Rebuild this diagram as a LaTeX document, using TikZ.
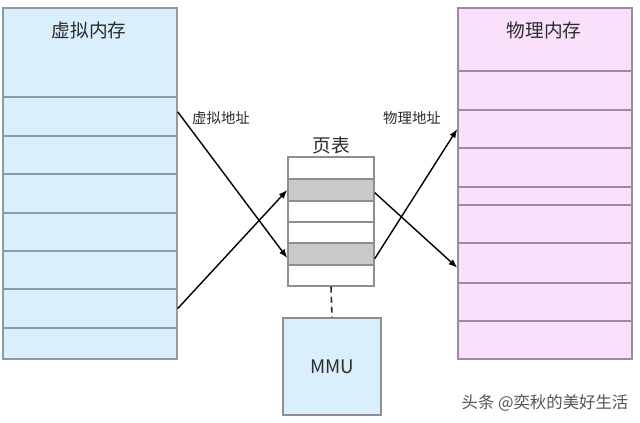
\documentclass[tikz,border=0pt]{standalone}
\usepackage{fontspec}
\setmainfont{Noto Sans CJK SC}
\usetikzlibrary{arrows.meta}

\definecolor{vmfill}{HTML}{D9EFFC}
\definecolor{vmline}{HTML}{8E9BA3}
\definecolor{pmfill}{HTML}{F9E1FC}
\definecolor{pmline}{HTML}{9A8C9E}
\definecolor{ptgray}{HTML}{C9C9C9}
\definecolor{ptline}{HTML}{8F8F8F}
\definecolor{txt}{HTML}{2B2B2B}

\begin{document}
\begin{tikzpicture}[x=0.75pt, y=-0.75pt,
    cell/.style={draw=#1, line width=1.1pt, inner sep=0pt},
    title/.style={text=txt, font=\fontsize{14pt}{16pt}\selectfont},
    lbl/.style={text=txt, font=\fontsize{10.8pt}{12pt}\selectfont},
    link/.style={-{Latex[length=6.5pt, width=5pt]}, line width=1.05pt, black}]
    \useasboundingbox (0,0) rectangle (640,422);
    \fill[white] (0,0) rectangle (640,422);

    % virtual memory
    \foreach \t/\b [count=\i] in {8/97, 97/136, 136/174, 174/213, 213/251, 251/289, 289/328, 328/359}
        \node[cell=vmline, fill=vmfill, minimum width=130.5pt, minimum height={(\b-\t)*0.75pt}]
            (vm\i) at (90, {(\t+\b)/2}) {};
    \node[title] (vmtitle) at (89, 30) {虚拟内存};

    % physical memory
    \foreach \t/\b [count=\i] in {8/71, 71/110, 110/148, 148/187, 187/205, 205/243, 243/283, 283/321, 321/359}
        \node[cell=pmline, fill=pmfill, minimum width=130.5pt, minimum height={(\b-\t)*0.75pt}]
            (pm\i) at (545, {(\t+\b)/2}) {};
    \node[title] (pmtitle) at (544, 30) {物理内存};

    % page table
    \foreach \t/\b/\c [count=\i] in {157/179/white, 179/201/ptgray, 201/222/white, 222/243/white, 243/265/ptgray, 265/286/white}
        \node[cell=ptline, fill=\c, minimum width=64.5pt, minimum height={(\b-\t)*0.75pt}]
            (pt\i) at (331, {(\t+\b)/2}) {};
    \node[title] (pttitle) at (331, 145) {页表};

    % mmu
    \node[cell=ptline, fill=vmfill, minimum width=73.5pt, minimum height=72.75pt,
        text=txt, font=\fontsize{14pt}{16pt}\selectfont] (mmu) at (332, 366.5) {MMU};
    \draw[line width=1.2pt, dash pattern=on 4.5pt off 3pt, txt] (pt6.south) -- (mmu.north);

    % addresses
    \draw[link] ([yshift=3.5pt]vm2.east) -- ([yshift=-3pt]pt5.west);
    \draw[link] (vm7.east) -- (pt2.west);
    \draw[link] ([yshift=-2pt]pt2.east) -- ([yshift=-3.5pt]pm7.west);
    \draw[link] ([yshift=-3.5pt]pt5.east) -- (pm3.west);

    \node[lbl] (valabel) at (221, 118) {虚拟地址};
    \node[lbl] (palabel) at (412, 118) {物理地址};

    \node[text=txt!80, font=\fontsize{12.3pt}{14pt}\selectfont] (mark) at (545, 403) {头条 @奕秋的美好生活};
\end{tikzpicture}
\end{document}
